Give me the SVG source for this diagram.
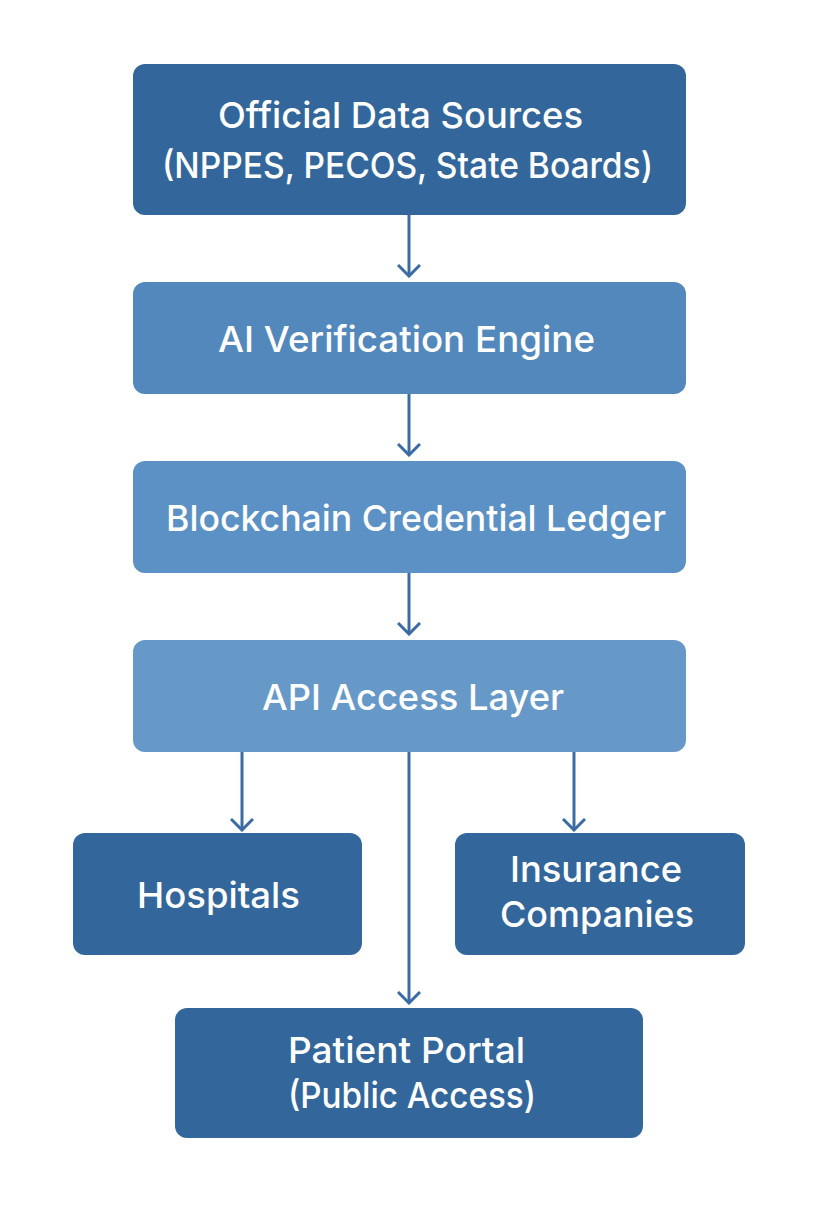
<svg xmlns="http://www.w3.org/2000/svg" width="819" height="1228" viewBox="0 0 819 1228">
<style>
.t{font-family:Inter,"Noto Sans","Liberation Sans",sans-serif;font-size:36px;font-weight:500;fill:#ffffff;text-anchor:middle}
.c{stroke:#3a6ca3;stroke-width:3;fill:none}
.dark{fill:#33679c}
</style>
<defs>
<marker id="ah" viewBox="0 0 14 24" refX="12" refY="12" markerWidth="14" markerHeight="24" markerUnits="userSpaceOnUse" orient="auto">
<path d="M1,1 L12,12 L1,23" fill="none" stroke="#3a6ca3" stroke-width="3"/>
</marker>
</defs>
<rect width="819" height="1228" fill="#ffffff"/>
<g id="connectors">
<line class="c" x1="409" y1="215" x2="409" y2="276" marker-end="url(#ah)"/>
<line class="c" x1="409" y1="394" x2="409" y2="455" marker-end="url(#ah)"/>
<line class="c" x1="409" y1="573" x2="409" y2="634" marker-end="url(#ah)"/>
<line class="c" x1="242" y1="752" x2="242" y2="830" marker-end="url(#ah)"/>
<line class="c" x1="574" y1="752" x2="574" y2="830" marker-end="url(#ah)"/>
<line class="c" x1="409" y1="752" x2="409" y2="1003" marker-end="url(#ah)"/>
</g>
<g id="sources">
<rect class="dark" x="133" y="64" width="553" height="151" rx="12"/>
<text class="t" x="400.5" y="128" textLength="365" lengthAdjust="spacingAndGlyphs">Official Data Sources</text>
<text class="t" x="407.5" y="178" textLength="491" lengthAdjust="spacingAndGlyphs">(NPPES, PECOS, State Boards)</text>
</g>
<g id="ai">
<rect x="133" y="282" width="553" height="112" rx="12" fill="#5288bc"/>
<text class="t" x="406.5" y="352" textLength="377" lengthAdjust="spacingAndGlyphs">AI Verification Engine</text>
</g>
<g id="ledger">
<rect x="133" y="461" width="553" height="112" rx="12" fill="#5b91c4"/>
<text class="t" x="416" y="531" textLength="500" lengthAdjust="spacingAndGlyphs">Blockchain Credential Ledger</text>
</g>
<g id="api">
<rect x="133" y="640" width="553" height="112" rx="12" fill="#6699c8"/>
<text class="t" x="413" y="710" textLength="302" lengthAdjust="spacingAndGlyphs">API Access Layer</text>
</g>
<g id="hospitals">
<rect class="dark" x="73" y="833" width="289" height="122" rx="12"/>
<text class="t" x="218.5" y="908" textLength="163" lengthAdjust="spacingAndGlyphs">Hospitals</text>
</g>
<g id="insurance">
<rect class="dark" x="455" y="833" width="290" height="122" rx="12"/>
<text class="t" x="596" y="882" textLength="172" lengthAdjust="spacingAndGlyphs">Insurance</text>
<text class="t" x="597" y="927" textLength="194" lengthAdjust="spacingAndGlyphs">Companies</text>
</g>
<g id="patient">
<rect class="dark" x="175" y="1008" width="468" height="130" rx="12"/>
<text class="t" x="406.5" y="1063" textLength="237" lengthAdjust="spacingAndGlyphs">Patient Portal</text>
<text class="t" x="412" y="1108" textLength="248" lengthAdjust="spacingAndGlyphs">(Public Access)</text>
</g>
</svg>
